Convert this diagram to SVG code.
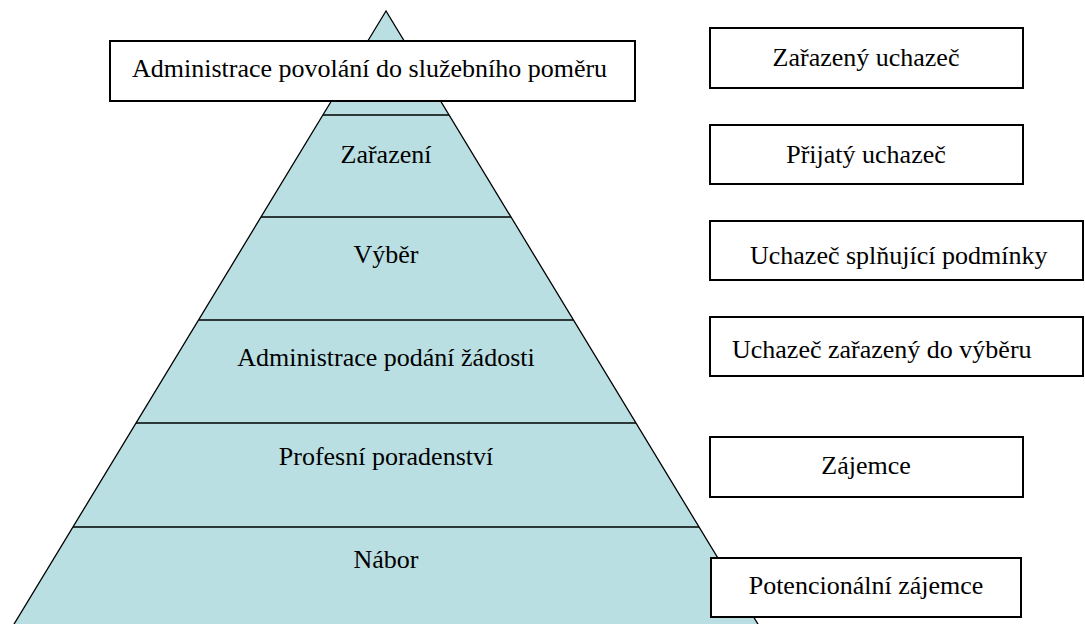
<svg xmlns="http://www.w3.org/2000/svg" width="1085" height="624" viewBox="0 0 1085 624">
<style>
  text { font-family: "Liberation Serif", "Times New Roman", serif; font-size: 26px; fill: #000; }
  .mid { text-anchor: middle; }
  .box { fill: #fff; stroke: #000; stroke-width: 2; }
  .pyr { fill: #B9DFE3; stroke: #000; stroke-width: 1.3; }
  .sep { stroke: #000; stroke-width: 1.3; }
</style>
<rect width="1085" height="624" fill="#fff"/>
<g id="pyramid">
  <polygon class="pyr" points="386,11 5,639 767,639"/>
</g>
<g id="connectors">
  <line class="sep" x1="323" y1="115" x2="449" y2="115"/>
  <line class="sep" x1="261" y1="217" x2="511" y2="217"/>
  <line class="sep" x1="199" y1="320" x2="573" y2="320"/>
  <line class="sep" x1="136" y1="423" x2="636" y2="423"/>
  <line class="sep" x1="73" y1="527" x2="699" y2="527"/>
</g>
<g id="level-top">
  <rect class="box" x="110" y="41" width="525" height="60"/>
  <text x="132" y="77">Administrace povolání do služebního poměru</text>
</g>
<g id="level-zarazeni"><text x="386" y="163" class="mid">Zařazení</text></g>
<g id="level-vyber"><text x="386" y="263" class="mid">Výběr</text></g>
<g id="level-administrace"><text x="386" y="366" class="mid">Administrace podání žádosti</text></g>
<g id="level-poradenstvi"><text x="386" y="465" class="mid">Profesní poradenství</text></g>
<g id="level-nabor"><text x="386" y="568" class="mid">Nábor</text></g>
<g id="out-zarazeny">
  <rect class="box" x="710" y="28" width="313" height="60"/>
  <text x="866" y="66" class="mid">Zařazený uchazeč</text>
</g>
<g id="out-prijaty">
  <rect class="box" x="710" y="125" width="313" height="59"/>
  <text x="866" y="163" class="mid">Přijatý uchazeč</text>
</g>
<g id="out-splnujici">
  <rect class="box" x="710" y="221" width="373" height="59"/>
  <text x="750" y="264">Uchazeč splňující podmínky</text>
</g>
<g id="out-vyber">
  <rect class="box" x="710" y="317" width="373" height="59"/>
  <text x="732" y="358">Uchazeč zařazený do výběru</text>
</g>
<g id="out-zajemce">
  <rect class="box" x="710" y="437" width="313" height="60"/>
  <text x="866" y="474" class="mid">Zájemce</text>
</g>
<g id="out-potencionalni">
  <rect class="box" x="711" y="558" width="310" height="59"/>
  <text x="866" y="594" class="mid">Potencionální zájemce</text>
</g>
</svg>
